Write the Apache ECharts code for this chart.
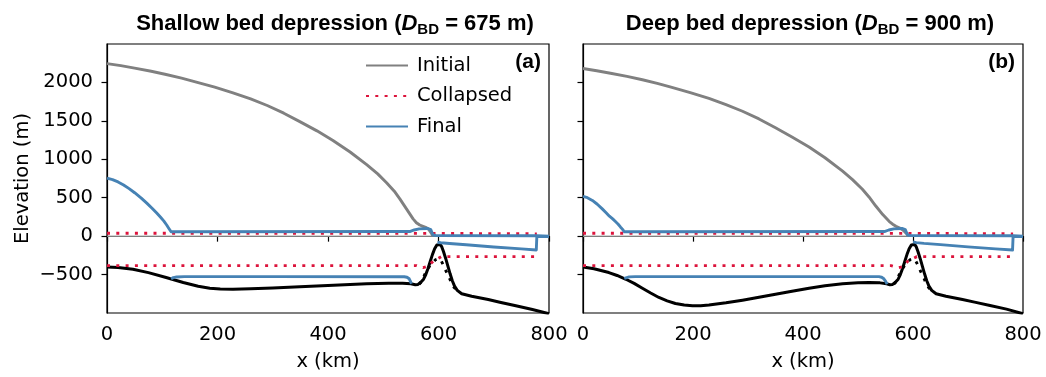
<!DOCTYPE html>
<html><head><meta charset="utf-8">
<script src="https://cdn.jsdelivr.net/npm/echarts@6/dist/echarts.min.js"></script>
<style>html,body{margin:0;padding:0;background:#fff}#c{width:1046px;height:377px}</style>
</head><body><div id="c"></div>
<script>
const xTicks = [0, 200, 400, 600, 800];
const yTicks = [-500, 0, 500, 1000, 1500, 2000];
const seaLevel = [[0, 0], [800, 0]];

// ---- panel (a): shallow bed depression ----
const initialA = [[0,2245],[25,2218],[50,2187],[80,2145],[107,2103],[135,2055],[160,2008],[195,1938],[228,1865],[260,1785],[290,1700],[320,1600],[349,1490],[380,1370],[409,1245],[440,1095],[470,930],[490,810],[506,695],[520,585],[530,485],[542,355],[554,225],[560,175],[566,145],[572,128],[578,112],[582,90],[586,50],[590,0]];
const finalUpperA = [[0,755],[10,735],[20,705],[30,665],[40,618],[50,565],[62,495],[72,430],[82,360],[90,300],[97,245],[103,195],[108,145],[112,100],[116,57],[548,60],[556,80],[565,95],[580,100],[586,85],[590,15],[595,8],[778,5],[779,0],[800,0]];
const finalCavityA = [[116,-555],[120,-540],[126,-531],[140,-527],[300,-527],[538,-528],[543,-535],[547,-555],[549,-585],[551,-620]];
const finalShelfA = [[598,-80],[604,-86],[620,-95],[650,-112],[700,-142],[750,-166],[777,-180],[778,-5],[800,-5]];
const collapsedUpperA = [[0,38],[580,36],[778,30]];
const collapsedLowerA = [[0,-383],[560,-383],[572,-410],[580,-395],[591,-323],[605,-267],[778,-267]];
const bedA = [[0,-401],[20,-408],[47,-431],[75,-475],[107,-539],[138,-604],[165,-652],[186,-677],[205,-688],[228,-690],[260,-685],[300,-674],[349,-660],[410,-640],[470,-620],[510,-612],[535,-612],[550,-620],[558,-632],[563,-628],[568,-600],[573,-560],[577,-500],[581,-420],[585,-330],[589,-240],[593,-165],[597,-115],[600,-100],[603,-108],[606,-140],[609,-200],[613,-290],[617,-390],[621,-490],[625,-580],[629,-650],[634,-705],[642,-750],[660,-782],[690,-825],[711,-860],[740,-905],[770,-955],[800,-1010]];
const bedDottedA = [[565,-625],[570,-585],[575,-500],[580,-430],[585,-380],[590,-340],[595,-305],[600,-292],[604,-310],[608,-365],[612,-430],[616,-490],[620,-550],[624,-615],[628,-665],[633,-705]];

// ---- panel (b): deep bed depression ----
const initialB = [[0,2181],[25,2152],[50,2120],[80,2078],[108,2035],[135,1988],[160,1940],[195,1868],[229,1792],[260,1712],[290,1625],[320,1525],[350,1410],[380,1290],[411,1160],[440,1020],[472,845],[490,735],[508,610],[520,510],[532,395],[545,280],[557,190],[563,155],[569,128],[575,108],[580,88],[584,65],[588,35],[592,0]];
const finalUpperB = [[0,518],[8,500],[17,465],[26,415],[35,355],[42,305],[48,260],[54,225],[59,190],[64,155],[68,120],[72,88],[75,57],[548,60],[556,80],[565,95],[580,100],[586,85],[590,15],[595,8],[782,5],[783,0],[800,0]];
const finalCavityB = [[75,-550],[78,-538],[84,-530],[95,-527],[300,-527],[538,-527],[543,-535],[547,-555],[550,-585],[553,-625]];
const finalShelfB = [[600,-75],[606,-84],[620,-94],[650,-110],[700,-140],[750,-166],[781,-181],[782,-5],[800,-5]];
const collapsedUpperB = [[0,38],[580,36],[782,30]];
const collapsedLowerB = [[0,-383],[560,-383],[574,-410],[582,-395],[591,-323],[607,-267],[782,-267]];
const bedB = [[0,-401],[20,-425],[47,-474],[62,-512],[78,-561],[93,-615],[108,-677],[123,-740],[138,-798],[153,-842],[168,-876],[184,-897],[199,-906],[214,-905],[229,-897],[260,-868],[290,-833],[320,-795],[350,-757],[380,-716],[411,-677],[440,-645],[472,-620],[500,-607],[520,-604],[540,-608],[552,-620],[558,-632],[563,-628],[568,-600],[573,-560],[577,-500],[581,-420],[585,-330],[589,-240],[593,-165],[597,-115],[600,-100],[603,-108],[606,-140],[609,-200],[613,-290],[617,-390],[621,-490],[625,-580],[629,-650],[634,-705],[642,-750],[660,-782],[690,-825],[714,-862],[740,-903],[770,-950],[800,-1010]];
const bedDottedB = [[565,-625],[570,-585],[575,-500],[580,-430],[585,-380],[590,-340],[595,-305],[600,-292],[604,-310],[608,-365],[612,-430],[616,-490],[620,-550],[624,-615],[628,-665],[633,-705]];

const GRAY = '#808080', RED = '#dc143c', BLUE = '#4682b4', BLACK = '#000000';
const LW = 2.9;
const DOT = [3, 6.3];
const FONT = 'DejaVu Sans';

function line(name, data, gi, color, opts) {
  opts = opts || {};
  return {
    type: 'line', name: name, data: data,
    xAxisIndex: gi, yAxisIndex: gi,
    symbol: 'none', showSymbol: false, silent: true, animation: false,
    z: opts.z || 2,
    lineStyle: { color: color, width: opts.width || LW, type: opts.type || 'solid', cap: 'butt', join: 'round' },
    itemStyle: { color: color }
  };
}

function panel(gi, d) {
  return [
    line('sea', seaLevel, gi, '#a8a8a8', { width: 1.3, z: 1 }),
    line('Initial', d.initial, gi, GRAY, { z: 2 }),
    line('bedDotted', d.bedDotted, gi, BLACK, { type: DOT, z: 3 }),
    line('bed', d.bed, gi, BLACK, { z: 4, width: 3 }),
    line('Collapsed', d.cu, gi, RED, { type: DOT, z: 5 }),
    line('Collapsed', d.cl, gi, RED, { type: DOT, z: 5 }),
    line('Final', d.fu, gi, BLUE, { z: 6 }),
    line('Final', d.fc, gi, BLUE, { z: 6 }),
    line('Final', d.fs, gi, BLUE, { z: 6 })
  ];
}

function xAx(gi) {
  return {
    type: 'value', gridIndex: gi, min: 0, max: 800, interval: 200,
    name: 'x (km)', nameLocation: 'middle', nameGap: 39,
    nameTextStyle: { fontFamily: FONT, fontSize: 19.5, color: '#000' },
    axisLine: { lineStyle: { color: '#000', width: 1.2 } },
    axisTick: { length: 5.5, lineStyle: { color: '#000', width: 1.2 } },
    axisLabel: { fontFamily: FONT, fontSize: 19.5, color: '#000', margin: 12 },
    splitLine: { show: false }
  };
}
function yAx(gi, showLabels) {
  return {
    type: 'value', gridIndex: gi, min: -1000, max: 2500, interval: 500,
    name: showLabels ? 'Elevation (m)' : '', nameLocation: 'middle', nameGap: 74,
    nameTextStyle: { fontFamily: FONT, fontSize: 19.5, color: '#000' },
    axisLine: { show: true, lineStyle: { color: '#000', width: 1.2 } },
    axisTick: { show: true, length: 5.5, customValues: yTicks, lineStyle: { color: '#000', width: 1.2 } },
    axisLabel: { show: showLabels, customValues: yTicks, fontFamily: FONT, fontSize: 19.5, color: '#000', margin: 14,
      formatter: v => (v < 0 ? '\u2212' + Math.abs(v) : String(v)) },
    splitLine: { show: false }
  };
}

const titleRich = {
  b: { fontFamily: 'Liberation Sans', fontWeight: 'bold', fontSize: 22, color: '#000', lineHeight: 26 },
  i: { fontFamily: 'Liberation Sans', fontWeight: 'bold', fontStyle: 'italic', fontSize: 22, color: '#000', lineHeight: 26 },
  s: { fontFamily: 'Liberation Sans', fontWeight: 'bold', fontSize: 15, color: '#000', lineHeight: 17, verticalAlign: 'bottom' }
};

const option = {
  backgroundColor: '#fff',
  animation: false,
  title: [
    { text: '{b|Shallow bed depression (}{i|D}{s|BD}{b| = 675 m)}', left: 330, top: 6, textAlign: 'center', textStyle: { rich: titleRich } },
    { text: '{b|Deep bed depression (}{i|D}{s|BD}{b| = 900 m)}', left: 805, top: 6, textAlign: 'center', textStyle: { rich: titleRich } },
    { text: '(a)', left: 536, top: 47, textAlign: 'right', textStyle: { fontFamily: 'Liberation Sans', fontWeight: 'bold', fontSize: 21, color: '#000' } },
    { text: '(b)', left: 1010, top: 47, textAlign: 'right', textStyle: { fontFamily: 'Liberation Sans', fontWeight: 'bold', fontSize: 21, color: '#000' } }
  ],
  legend: {
    data: ['Initial', 'Collapsed', 'Final'],
    orient: 'vertical', left: 360, top: 49,
    itemWidth: 42, itemHeight: 14, itemGap: 7.5,
    selectedMode: false,
    itemStyle: { opacity: 0 },
    textStyle: { fontFamily: FONT, fontSize: 19.5, color: '#000', lineHeight: 23, padding: [0, 0, 0, 4] }
  },
  grid: [
    { left: 107, top: 44, width: 442, height: 271, show: true, borderColor: '#000', borderWidth: 1.2, backgroundColor: 'transparent' },
    { left: 583, top: 44, width: 440, height: 271, show: true, borderColor: '#000', borderWidth: 1.2, backgroundColor: 'transparent' }
  ],
  xAxis: [xAx(0), xAx(1)],
  yAxis: [yAx(0, true), yAx(1, false)],
  series: [].concat(
    panel(0, { initial: initialA, bed: bedA, bedDotted: bedDottedA, cu: collapsedUpperA, cl: collapsedLowerA, fu: finalUpperA, fc: finalCavityA, fs: finalShelfA }),
    panel(1, { initial: initialB, bed: bedB, bedDotted: bedDottedB, cu: collapsedUpperB, cl: collapsedLowerB, fu: finalUpperB, fc: finalCavityB, fs: finalShelfB })
  )
};

const chart = echarts.init(document.getElementById('c'), null, { renderer: 'canvas' });
chart.setOption(option);
</script>
</body></html>
